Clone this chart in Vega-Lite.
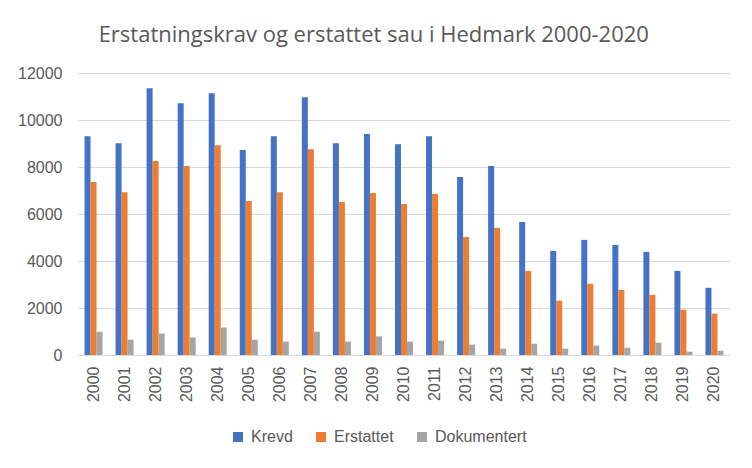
{
  "$schema": "https://vega.github.io/schema/vega-lite/v6.json",
  "title": {
    "text": "Erstatningskrav og erstattet sau i Hedmark 2000-2020",
    "font": "Open Sans",
    "fontSize": 22,
    "fontWeight": "normal",
    "color": "#595959",
    "anchor": "middle",
    "frame": "bounds",
    "offset": 18
  },
  "width": 652,
  "height": 282,
  "padding": {"left": 17, "top": 24, "right": 22, "bottom": 5},
  "background": "white",
  "data": {
    "values": [
      {"year": "2000", "serie": "Krevd", "value": 9310},
      {"year": "2000", "serie": "Erstattet", "value": 7360},
      {"year": "2000", "serie": "Dokumentert", "value": 990},
      {"year": "2001", "serie": "Krevd", "value": 9010},
      {"year": "2001", "serie": "Erstattet", "value": 6930},
      {"year": "2001", "serie": "Dokumentert", "value": 650},
      {"year": "2002", "serie": "Krevd", "value": 11350},
      {"year": "2002", "serie": "Erstattet", "value": 8260},
      {"year": "2002", "serie": "Dokumentert", "value": 910},
      {"year": "2003", "serie": "Krevd", "value": 10710},
      {"year": "2003", "serie": "Erstattet", "value": 8040},
      {"year": "2003", "serie": "Dokumentert", "value": 750},
      {"year": "2004", "serie": "Krevd", "value": 11140},
      {"year": "2004", "serie": "Erstattet", "value": 8930},
      {"year": "2004", "serie": "Dokumentert", "value": 1170},
      {"year": "2005", "serie": "Krevd", "value": 8720},
      {"year": "2005", "serie": "Erstattet", "value": 6550},
      {"year": "2005", "serie": "Dokumentert", "value": 650},
      {"year": "2006", "serie": "Krevd", "value": 9310},
      {"year": "2006", "serie": "Erstattet", "value": 6930},
      {"year": "2006", "serie": "Dokumentert", "value": 570},
      {"year": "2007", "serie": "Krevd", "value": 10970},
      {"year": "2007", "serie": "Erstattet", "value": 8760},
      {"year": "2007", "serie": "Dokumentert", "value": 990},
      {"year": "2008", "serie": "Krevd", "value": 9010},
      {"year": "2008", "serie": "Erstattet", "value": 6510},
      {"year": "2008", "serie": "Dokumentert", "value": 570},
      {"year": "2009", "serie": "Krevd", "value": 9400},
      {"year": "2009", "serie": "Erstattet", "value": 6890},
      {"year": "2009", "serie": "Dokumentert", "value": 790},
      {"year": "2010", "serie": "Krevd", "value": 8970},
      {"year": "2010", "serie": "Erstattet", "value": 6430},
      {"year": "2010", "serie": "Dokumentert", "value": 570},
      {"year": "2011", "serie": "Krevd", "value": 9310},
      {"year": "2011", "serie": "Erstattet", "value": 6850},
      {"year": "2011", "serie": "Dokumentert", "value": 610},
      {"year": "2012", "serie": "Krevd", "value": 7570},
      {"year": "2012", "serie": "Erstattet", "value": 5020},
      {"year": "2012", "serie": "Dokumentert", "value": 440},
      {"year": "2013", "serie": "Krevd", "value": 8040},
      {"year": "2013", "serie": "Erstattet", "value": 5410},
      {"year": "2013", "serie": "Dokumentert", "value": 270},
      {"year": "2014", "serie": "Krevd", "value": 5660},
      {"year": "2014", "serie": "Erstattet", "value": 3580},
      {"year": "2014", "serie": "Dokumentert", "value": 480},
      {"year": "2015", "serie": "Krevd", "value": 4430},
      {"year": "2015", "serie": "Erstattet", "value": 2310},
      {"year": "2015", "serie": "Dokumentert", "value": 270},
      {"year": "2016", "serie": "Krevd", "value": 4900},
      {"year": "2016", "serie": "Erstattet", "value": 3030},
      {"year": "2016", "serie": "Dokumentert", "value": 400},
      {"year": "2017", "serie": "Krevd", "value": 4680},
      {"year": "2017", "serie": "Erstattet", "value": 2770},
      {"year": "2017", "serie": "Dokumentert", "value": 310},
      {"year": "2018", "serie": "Krevd", "value": 4390},
      {"year": "2018", "serie": "Erstattet", "value": 2560},
      {"year": "2018", "serie": "Dokumentert", "value": 520},
      {"year": "2019", "serie": "Krevd", "value": 3580},
      {"year": "2019", "serie": "Erstattet", "value": 1930},
      {"year": "2019", "serie": "Dokumentert", "value": 140},
      {"year": "2020", "serie": "Krevd", "value": 2860},
      {"year": "2020", "serie": "Erstattet", "value": 1760},
      {"year": "2020", "serie": "Dokumentert", "value": 180}
    ]
  },
  "mark": {"type": "bar"},
  "encoding": {
    "x": {
      "field": "year",
      "type": "nominal",
      "title": null,
      "scale": {"paddingInner": 0.42, "paddingOuter": 0.21},
      "axis": {
        "labelAngle": -90,
        "labelAlign": "right",
        "labelBaseline": "middle",
        "labelPadding": 11,
        "ticks": false,
        "domainColor": "#D9D9D9",
        "grid": false
      }
    },
    "xOffset": {
      "field": "serie",
      "type": "nominal",
      "scale": {"domain": ["Krevd", "Erstattet", "Dokumentert"], "paddingInner": 0}
    },
    "y": {
      "field": "value",
      "type": "quantitative",
      "title": null,
      "scale": {"domain": [0, 12000]},
      "axis": {
        "values": [0, 2000, 4000, 6000, 8000, 10000, 12000],
        "format": "d",
        "domain": false,
        "ticks": false,
        "labelPadding": 16,
        "gridColor": "#D9D9D9"
      }
    },
    "color": {
      "field": "serie",
      "type": "nominal",
      "title": null,
      "scale": {
        "domain": ["Krevd", "Erstattet", "Dokumentert"],
        "range": ["#4472C4", "#ED7D31", "#A5A5A5"]
      },
      "legend": {
        "orient": "none",
        "legendX": 152,
        "legendY": 356,
        "direction": "horizontal",
        "symbolType": "square",
        "symbolSize": 100,
        "symbolStrokeWidth": 0,
        "columnPadding": 20,
        "labelOffset": 5
      }
    }
  },
  "config": {
    "font": "Liberation Sans",
    "view": {"stroke": null},
    "axis": {
      "labelFont": "Liberation Sans",
      "labelFontSize": 16,
      "labelColor": "#595959"
    },
    "legend": {
      "labelFont": "Liberation Sans",
      "labelFontSize": 16,
      "labelColor": "#595959"
    }
  }
}
